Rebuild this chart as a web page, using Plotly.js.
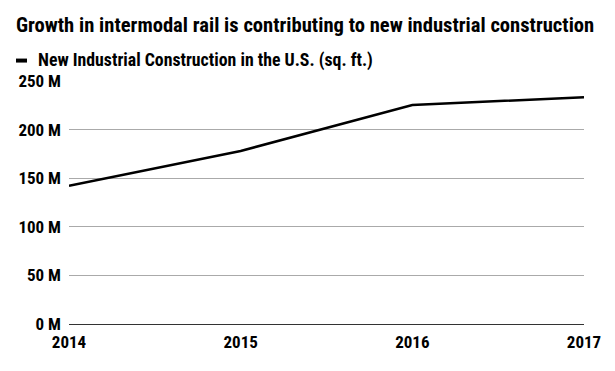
<!DOCTYPE html>
<html>
<head>
<meta charset="utf-8">
<script src="https://cdn.plot.ly/plotly-3.0.1.min.js"></script>
<style>html,body{margin:0;padding:0;background:#fff;}#chart{width:615px;height:371px;}</style>
</head>
<body>
<div id="chart"></div>
<script>
const years = [2014, 2015, 2016, 2017];
const construction = [142.2, 178, 225.2, 233.4]; // millions sq. ft.
const yTicks = [0, 50, 100, 150, 200, 250];
const seriesName = "New Industrial Construction in the U.S. (sq. ft.)";
const chartTitle = "Growth in intermodal rail is contributing to new industrial construction";

const FONT = "'Roboto Condensed', 'Liberation Sans Narrow', 'DejaVu Sans Condensed', Roboto, sans-serif";

const trace = {
  x: years, y: construction, type: 'scatter', mode: 'lines', name: seriesName,
  line: {color: '#000000', width: 2.5}, showlegend: false
};

const layout = {
  width: 615, height: 371,
  paper_bgcolor: '#ffffff', plot_bgcolor: '#ffffff',
  margin: {l: 69, r: 31, t: 80.5, b: 46.7, pad: 0},
  font: {family: FONT, color: '#000', size: 17, weight: 'bold'},
  title: {text: chartTitle, font: {family: FONT, size: 20.6, color: '#000', weight: 'bold'},
    x: 16/615, xanchor: 'left', xref: 'container', y: 1 - 25/371, yanchor: 'middle', yref: 'container'},
  xaxis: {range: [2014, 2017], tickvals: years, ticktext: years.map(String), showgrid: false, zeroline: false,
    showline: false, ticks: '', ticklabelstandoff: 6, tickfont: {family: FONT, size: 17, color: '#000', weight: 'bold'}},
  yaxis: {range: [0, 250], tickvals: yTicks, ticktext: yTicks.map(v => v + ' M'), showgrid: true,
    gridcolor: '#aaaaaa', gridwidth: 1, zeroline: true, zerolinecolor: '#333333', zerolinewidth: 1,
    ticks: '', ticklabelstandoff: 7, tickfont: {family: FONT, size: 17, color: '#000', weight: 'bold'}},
  shapes: [{type: 'line', xref: 'paper', yref: 'paper', x0: -53/515, x1: -42/515, y0: (324.3-60)/243.8, y1: (324.3-60)/243.8,
    line: {color: '#000', width: 4}}],
  annotations: [{text: seriesName, xref: 'paper', yref: 'paper', x: -33/515, y: (324.3-59.5)/243.8,
    xanchor: 'left', yanchor: 'middle', showarrow: false, font: {family: FONT, size: 17.8, color: '#000', weight: 'bold'}}]
};

Plotly.newPlot('chart', [trace], layout, {displayModeBar: false, staticPlot: true});
</script>
</body>
</html>
